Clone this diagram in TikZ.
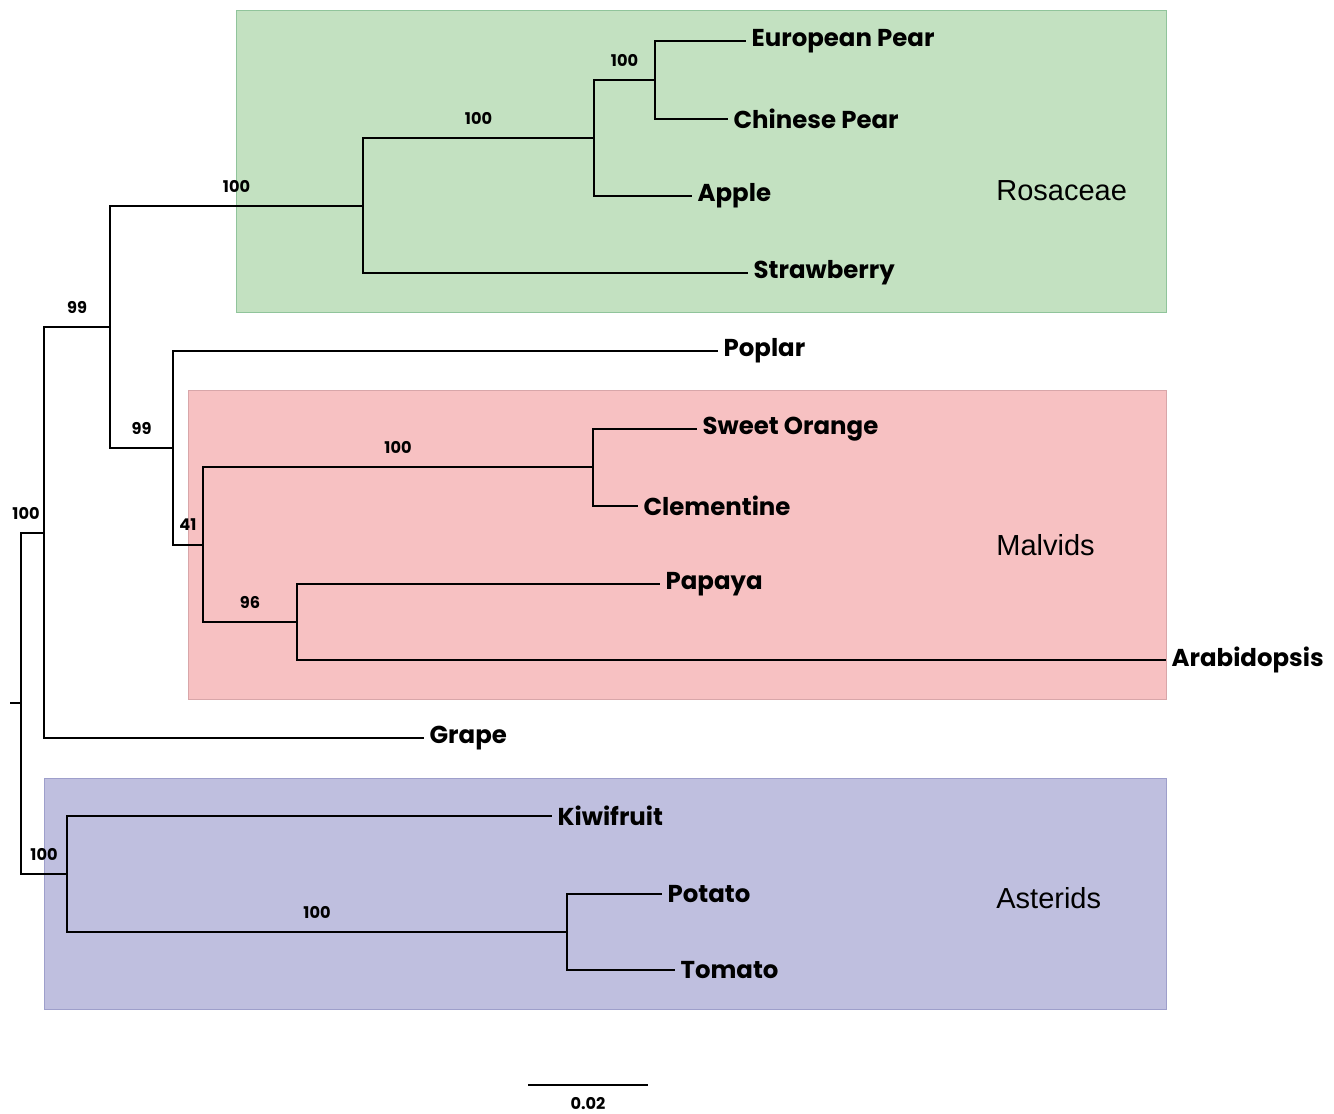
\documentclass[tikz,border=0pt]{standalone}
\usepackage{fontspec}
\usetikzlibrary{positioning,calc}
\newfontfamily\treefont{Poppins}
\newfontfamily\groupfont{Liberation Sans}
\definecolor{rosefill}{HTML}{C3E1C1}
\definecolor{rosedraw}{HTML}{90C49B}
\definecolor{malvfill}{HTML}{F7C1C2}
\definecolor{malvdraw}{HTML}{D8A6A9}
\definecolor{asterfill}{HTML}{BFBFDF}
\definecolor{asterdraw}{HTML}{9E9FCB}

\begin{document}
\begin{tikzpicture}[x=0.02cm, y=-0.02cm]
\tikzstyle{leaf}=[anchor=west, inner sep=3pt, font=\treefont\bfseries\fontsize{13.9}{15}\selectfont];
\tikzstyle{boot}=[pos=0.75, yshift=0.4cm, inner sep=0pt, font=\treefont\bfseries\fontsize{9.2}{10}\selectfont];
\tikzstyle{group}=[anchor=west, inner sep=0pt, font=\groupfont\fontsize{16.5}{18}\selectfont];
\tikzstyle{branch}=[line width=0.75pt];
\useasboundingbox (0,0) rectangle (1334,1113);

  \draw[fill=rosefill, draw=rosedraw] (236,10) rectangle (1166,312);
  \draw[fill=malvfill, draw=malvdraw] (188,390) rectangle (1166,699);
  \draw[fill=asterfill, draw=asterdraw] (44,778) rectangle (1166,1009);

  \node (rosaceae) at (996,191) [group]{Rosaceae};
  \node (malvids) at (996,545) [group]{Malvids};
  \node (asterids) at (996,898) [group]{Asterids};

  \coordinate (stub) at (10,703);
  \coordinate (root) at (21,703);
  \coordinate (nA) at (44,533);
  \coordinate (nB) at (110,327);
  \coordinate (nRos) at (363,206);
  \coordinate (nPA) at (594,138);
  \coordinate (nPear) at (655,80);
  \coordinate (nC) at (173,448);
  \coordinate (nMal) at (203,545);
  \coordinate (nCit) at (593,467);
  \coordinate (nBra) at (297,622);
  \coordinate (nAst) at (67,874);
  \coordinate (nSol) at (567,932);

  \node (eupear) at (746,41) [leaf]{European Pear};
  \node (chpear) at (728,119) [leaf]{Chinese Pear};
  \node (apple) at (692,196) [leaf]{Apple};
  \node (strawberry) at (748,273) [leaf]{Strawberry};
  \node (poplar) at (718,351) [leaf]{Poplar};
  \node (orange) at (697,429) [leaf]{Sweet Orange};
  \node (clementine) at (638,506) [leaf]{Clementine};
  \node (papaya) at (660,584) [leaf]{Papaya};
  \node (arabidopsis) at (1166,660) [leaf]{Arabidopsis};
  \node (grape) at (424,738) [leaf]{Grape};
  \node (kiwi) at (552,816) [leaf]{Kiwifruit};
  \node (potato) at (662,894) [leaf]{Potato};
  \node (tomato) at (675,970) [leaf]{Tomato};

  \draw[branch] (stub) -- (root);
  \draw[branch] (root) |- (nA) node[boot, xshift=-0.13cm]{100};
  \draw[branch] (root) |- (nAst) node[boot]{100};
  \draw[branch] (nA) |- (nB) node[boot]{99};
  \draw[branch] (nA) |- (grape.west);
  \draw[branch] (nB) |- (nRos) node[boot]{100};
  \draw[branch] (nB) |- (nC) node[boot]{99};
  \draw[branch] (nRos) |- (nPA) node[boot]{100};
  \draw[branch] (nRos) |- (strawberry.west);
  \draw[branch] (nPA) |- (nPear) node[boot]{100};
  \draw[branch] (nPA) |- (apple.west);
  \draw[branch] (nPear) |- (eupear.west);
  \draw[branch] (nPear) |- (chpear.west);
  \draw[branch] (nC) |- (poplar.west);
  \draw[branch] (nC) |- (nMal) node[boot]{41};
  \draw[branch] (nMal) |- (nCit) node[boot]{100};
  \draw[branch] (nMal) |- (nBra) node[boot]{96};
  \draw[branch] (nCit) |- (orange.west);
  \draw[branch] (nCit) |- (clementine.west);
  \draw[branch] (nBra) |- (papaya.west);
  \draw[branch] (nBra) |- (arabidopsis.west);
  \draw[branch] (nAst) |- (kiwi.west);
  \draw[branch] (nAst) |- (nSol) node[boot]{100};
  \draw[branch] (nSol) |- (potato.west);
  \draw[branch] (nSol) |- (tomato.west);

  \coordinate (scaleleft) at (528,1085);
  \coordinate (scaleright) at (648,1085);
  \draw[branch] (scaleleft) -- (scaleright) node[midway, yshift=-0.37cm, inner sep=0pt, font=\treefont\bfseries\fontsize{9.2}{10}\selectfont]{0.02};
\end{tikzpicture}
\end{document}
